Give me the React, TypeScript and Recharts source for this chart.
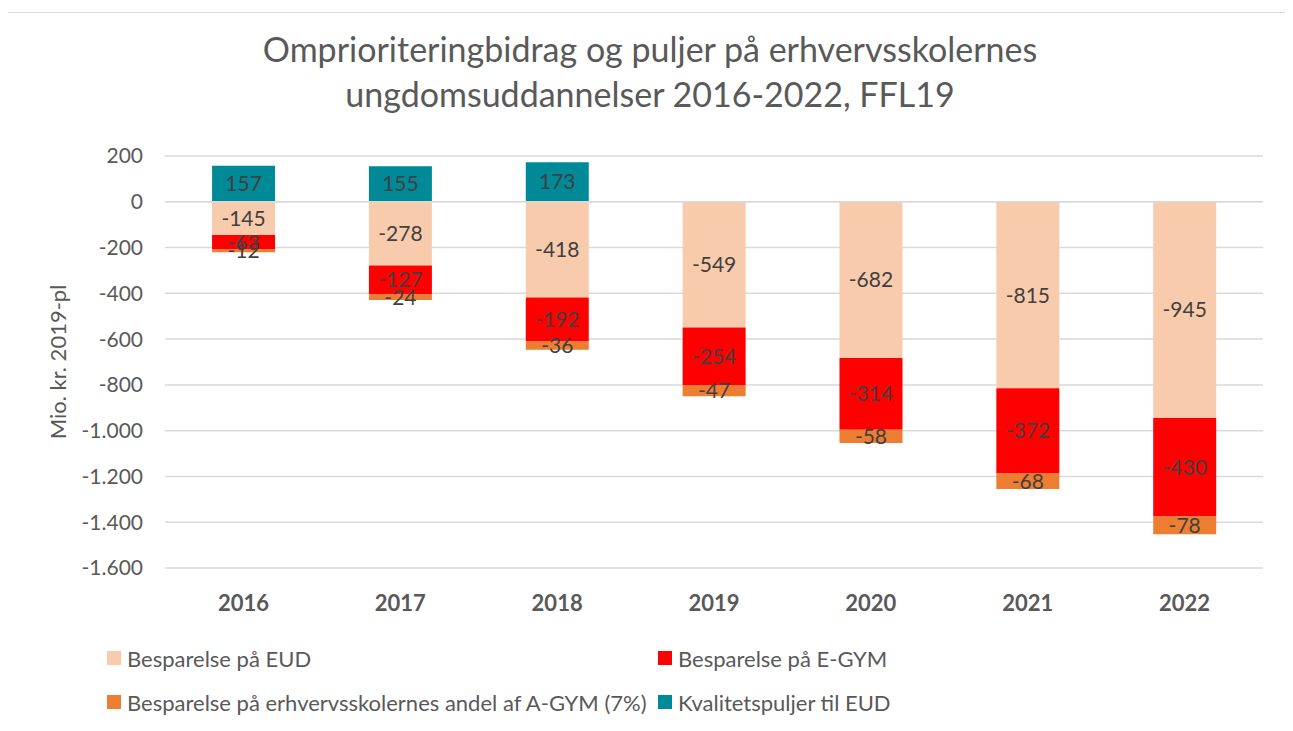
import React from "react";
import { BarChart, Bar, XAxis, YAxis, CartesianGrid, LabelList, ReferenceLine } from "recharts";

const years = ["2016", "2017", "2018", "2019", "2020", "2021", "2022"];
const eud = [-145, -278, -418, -549, -682, -815, -945];
const egym = [-63, -127, -192, -254, -314, -372, -430];
const agym = [-12, -24, -36, -47, -58, -68, -78];
const kval: (number | null)[] = [157, 155, 173, null, null, null, null];
const yTicks = [200, 0, -200, -400, -600, -800, -1000, -1200, -1400, -1600];

const series = [
  { key: "eud", name: "Besparelse på EUD", color: "#F8CBAD" },
  { key: "egym", name: "Besparelse på E-GYM", color: "#FF0000" },
  { key: "agym", name: "Besparelse på erhvervsskolernes andel af A-GYM (7%)", color: "#ED7D31" },
  { key: "kval", name: "Kvalitetspuljer til EUD", color: "#008996" },
];

const data = years.map((y, i) => ({ year: y, eud: eud[i], egym: egym[i], agym: agym[i], kval: kval[i] }));

const FONT = "Lato, 'Open Sans', sans-serif";
const fmt = (v: number) => {
  const s = Math.abs(v).toString().replace(/\B(?=(\d{3})+(?!\d))/g, ".");
  return (v < 0 ? "-" : "") + s;
};
const labelFmt = (v: any) => (v === null || v === undefined ? "" : String(v));

export default function App() {
  return (
    <div
      style={{
        position: "relative",
        marginLeft: -1,
        marginTop: 4,
        width: 1284,
        height: 730,
        border: "1px solid #d9d9d9",
        background: "#fff",
        fontFamily: FONT,
      }}
    >
      <div
        style={{
          position: "absolute",
          left: 0,
          top: 13,
          width: 1284,
          textAlign: "center",
          fontSize: 34,
          lineHeight: "45px",
          color: "#595959",
          fontFamily: FONT,
        }}
      >
        Omprioriteringbidrag og puljer på erhvervsskolernes
        <br />
        ungdomsuddannelser 2016-2022, FFL19
      </div>
      <div style={{ position: "absolute", left: 0, top: 0 }}>
        <BarChart
          width={1284}
          height={640}
          data={data}
          stackOffset="sign"
          barCategoryGap="30%"
          margin={{ top: 143, right: 29, bottom: 55, left: 0 }}
        >
          <CartesianGrid vertical={false} stroke="#d9d9d9" strokeWidth={1.5} />
          <XAxis
            dataKey="year"
            axisLine={false}
            tickLine={false}
            tickSize={0}
            tickMargin={27}
            height={30}
            tick={{ fill: "#595959", fontSize: 22, fontWeight: 700, fontFamily: FONT }}
          />
          <YAxis
            type="number"
            domain={[-1600, 200]}
            ticks={yTicks}
            interval={0}
            tickFormatter={fmt}
            axisLine={false}
            tickLine={false}
            tickSize={0}
            tickMargin={22}
            width={157}
            tick={{ fill: "#595959", fontSize: 21, fontFamily: FONT }}
            label={{
              value: "Mio. kr. 2019-pl",
              angle: -90,
              position: "insideLeft",
              offset: 50,
              style: { textAnchor: "middle", fill: "#595959", fontSize: 22, fontFamily: FONT },
            }}
          />
          {series.map((s) => (
            <Bar key={s.key} dataKey={s.key} name={s.name} stackId="a" fill={s.color} isAnimationActive={false}>
              <LabelList
                dataKey={s.key}
                position="center"
                formatter={labelFmt}
                fill="#404040"
                fontSize={21}
                fontFamily={FONT}
              />
            </Bar>
          ))}
          <ReferenceLine y={0} stroke="#d9d9d9" strokeWidth={1.5} />
        </BarChart>
      </div>
      <div
        style={{
          position: "absolute",
          left: 0,
          top: 0,
          width: 1284,
          fontSize: 22,
          color: "#595959",
          fontFamily: FONT,
        }}
      >
        {series.map((s, i) => (
          <div
            key={s.key}
            style={{
              position: "absolute",
              left: i % 2 === 0 ? 99 : 650,
              top: (i < 2 ? 645 : 689) - 15,
              display: "flex",
              alignItems: "center",
              whiteSpace: "nowrap",
              height: 30,
            }}
          >
            <span style={{ display: "inline-block", width: 14, height: 14, background: s.color, marginRight: 6 }} />
            {s.name}
          </div>
        ))}
      </div>
    </div>
  );
}
